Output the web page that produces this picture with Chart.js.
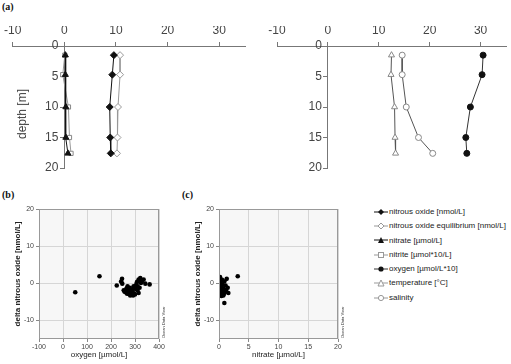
<!DOCTYPE html>
<html>
<head>
<meta charset="utf-8">
<script src="https://cdn.jsdelivr.net/npm/chart.js@4/dist/chart.umd.min.js"></script>
<style>
body{margin:0;background:#fff;width:511px;height:364px;position:relative;overflow:hidden;font-family:"Liberation Sans",Arial,sans-serif}
canvas{position:absolute}
.lab{position:absolute;font:bold 10px "Liberation Serif",serif;color:#111}
#ytitle{position:absolute;left:22px;top:114px;font-size:12px;color:#444;white-space:nowrap;transform:translate(-50%,-50%) rotate(-90deg)}
#legend{position:absolute;left:374px;top:205px;font-size:8px;color:#222}
#legend div{height:14.3px;line-height:14.3px;white-space:nowrap}
#legend svg{vertical-align:middle;margin-right:1px}
</style>
</head>
<body>
<div class="lab" style="left:2px;top:1px">(a)</div>
<div class="lab" style="left:2px;top:189px">(b)</div>
<div class="lab" style="left:182px;top:189px">(c)</div>
<canvas id="profL" width="256" height="180" style="left:0;top:0"></canvas>
<canvas id="profR" width="255" height="180" style="left:256px;top:0"></canvas>
<canvas id="scatB" width="180" height="164" style="left:0;top:200px"></canvas>
<canvas id="scatC" width="170" height="164" style="left:180px;top:200px"></canvas>
<div id="ytitle">depth [m]</div>
<div id="legend"></div>
<script>
// depth profiles (a)
var depth = [1.5, 4.7, 10, 15, 17.6];
var n2o = [9.6, 9.3, 8.8, 8.9, 9.0];
var n2oEq = [10.8, 10.8, 10.4, 10.3, 10.2];
var nitrate = [0.2, 0.2, 0.3, 0.3, 0.7];
var nitrite = [0.1, -0.3, 0.8, 1.0, 1.3];
var oxygen = [30.5, 30.3, 28.0, 27.1, 27.3];
var temperature = [12.5, 12.4, 13.1, 13.2, 13.3];
var salinity = [14.6, 14.6, 15.4, 17.8, 20.6];

// delta N2O vs oxygen (b)
var oxygenB = [51, 152, 224, 242, 246, 247, 253, 260, 264, 267, 269, 273, 278, 280, 283, 287, 292,
  294, 297, 301, 305, 308, 311, 315, 315, 319, 322, 325, 329, 336, 343, 361, 256, 275, 290, 310, 318, 300];
var deltaB = [-2.4, 1.9, -0.6, 0.5, 1.2, -0.1, -1.9, -2.4, -1.5, -2.8, -0.8, -2.1, -1.2, -3.3, -2.6, -1.7, -3.3,
  -0.8, -2.8, -1.5, -0.4, 0.3, -0.8, 1.0, -2.6, -1.2, 1.4, 0.1, 0.5, 1.0, -0.1, -0.3, -2.2, -2.9, -2.2, -1.9, 0.7, -3.0];

// delta N2O vs nitrate (c)
var nitrateC = [0.17, 0.45, 0.9, 0.17, 0.56, 1.1, 0.17, 0.73, 1.46, 0.34, 1.0, 1.57, 0.17, 0.73, 0.45,
  0.0, 1.3, 3.15, 0.9, 0.05, 1.2, 0.3, 0.6, 0.1, 0.8, 0.4];
var deltaC = [1.7, 1.0, 0.5, 0.1, -0.3, -0.6, -1.2, -1.5, -1.2, -2.1, -2.4, -2.6, -3.0, -3.3, -0.9,
  1.0, 1.2, 1.9, -5.3, -1.7, -1.8, -2.6, 0.8, -0.5, -2.9, -3.4];

var depthTicks = [0, 5, 10, 15, 20];
var profileTicks = [-10, 0, 10, 20, 30];
var oxygenTicks = [-100, 0, 100, 200, 300, 400];
var nitrateTicks = [0, 5, 10, 15, 20];
var deltaTicks = [-10, 0, 10, 20];

var legendLabels = ['nitrous oxide [nmol/L]', 'nitrous oxide equilibrium [nmol/L]', 'nitrate [\u00b5mol/L]',
  'nitrite [\u00b5mol*10/L]', 'oxygen [\u00b5mol/L*10]', 'temperature [\u00b0C]', 'salinity'];

function setTicks(arr) {
  return function (s) { s.ticks = arr.map(function (v) { return {value: v}; }); };
}

function prof(xs, st) {
  return Object.assign({
    data: xs.map(function (v, i) { return {x: v, y: depth[i]}; }),
    showLine: true, borderWidth: 1, pointRadius: 3, pointBorderWidth: 1, clip: false
  }, st);
}

var styles = [
  {borderColor: '#111', pointStyle: 'rectRot', pointBackgroundColor: '#111', pointBorderColor: '#111', pointRadius: 3.5},
  {borderColor: '#999', pointStyle: 'rectRot', pointBackgroundColor: '#fff', pointBorderColor: '#999', pointRadius: 3.5},
  {borderColor: '#111', pointStyle: 'triangle', pointBackgroundColor: '#111', pointBorderColor: '#111', pointRadius: 3.5},
  {borderColor: '#999', pointStyle: 'rect', pointBackgroundColor: '#fff', pointBorderColor: '#888'},
  {borderColor: '#333', pointStyle: 'circle', pointBackgroundColor: '#111', pointBorderColor: '#111'},
  {borderColor: '#555', pointStyle: 'triangle', pointBackgroundColor: '#fff', pointBorderColor: '#888', pointRadius: 3.5},
  {borderColor: '#555', pointStyle: 'circle', pointBackgroundColor: '#fff', pointBorderColor: '#888'}
];

function profileChart(id, sets, pad) {
  return new Chart(document.getElementById(id), {
    type: 'scatter',
    data: {datasets: sets},
    options: {
      responsive: false, animation: false,
      layout: {padding: pad},
      plugins: {legend: {display: false}, tooltip: {enabled: false}},
      scales: {
        x: {
          type: 'linear', position: 'top', min: -10, max: 35,
          afterBuildTicks: setTicks(profileTicks),
          afterFit: function (s) { s.height = 20; },
          grid: {drawOnChartArea: false, tickLength: 4, color: '#777'},
          border: {color: '#777'},
          ticks: {color: '#444', font: {size: 12}, padding: 4}
        },
        y: {
          type: 'linear', position: {x: 0}, reverse: true, min: 0, max: 20,
          afterBuildTicks: setTicks(depthTicks),
          grid: {drawOnChartArea: false, tickLength: 4, color: '#777'},
          border: {color: '#777'},
          // labels on a value-positioned axis end right at the line, so push them off with a space
          ticks: {color: '#444', font: {size: 12}, callback: function (v) { return v + '\u2002'; }}
        }
      }
    }
  });
}

profileChart('profL', [prof(n2o, styles[0]), prof(n2oEq, styles[1]), prof(nitrate, styles[2]), prof(nitrite, styles[3])],
  {left: 12, right: 11, top: 26, bottom: 12});
profileChart('profR', [prof(oxygen, styles[4]), prof(temperature, styles[5]), prof(salinity, styles[6])],
  {left: 21, right: 4, top: 26, bottom: 12});

// plot frame, background and ODV mark
var framePlugin = {
  id: 'frame',
  beforeDraw: function (chart) {
    var a = chart.chartArea, ctx = chart.ctx;
    ctx.save();
    ctx.fillStyle = '#f7f7f7';
    ctx.fillRect(a.left, a.top, a.right - a.left, a.bottom - a.top);
    ctx.restore();
  },
  afterDraw: function (chart) {
    var a = chart.chartArea, ctx = chart.ctx;
    ctx.save();
    ctx.strokeStyle = '#999';
    ctx.lineWidth = 1;
    ctx.strokeRect(a.left + 0.5, a.top + 0.5, a.right - a.left - 1, a.bottom - a.top - 1);
    ctx.translate(a.right + 4.5, a.bottom - 1);
    ctx.rotate(-Math.PI / 2);
    ctx.fillStyle = '#333';
    ctx.font = '4px "Liberation Sans"';
    ctx.textBaseline = 'middle';
    ctx.fillText('Ocean Data View', 0, 0);
    ctx.restore();
  }
};

function scatterChart(id, xs, ys, xmin, xmax, xticks, xtitle, pad) {
  return new Chart(document.getElementById(id), {
    type: 'scatter',
    data: {datasets: [{
      data: xs.map(function (v, i) { return {x: v, y: ys[i]}; }),
      pointRadius: 2.3, pointBackgroundColor: '#000', pointBorderColor: '#000', pointBorderWidth: 0
    }]},
    options: {
      responsive: false, animation: false,
      layout: {padding: pad},
      plugins: {legend: {display: false}, tooltip: {enabled: false}},
      scales: {
        x: {
          type: 'linear', min: xmin, max: xmax,
          afterBuildTicks: setTicks(xticks),
          afterFit: function (s) { s.height = 25; },
          grid: {color: '#d6d6d6', tickColor: '#888', tickLength: 3},
          border: {display: false},
          ticks: {color: '#444', font: {size: 7}, padding: 1},
          title: {display: true, text: xtitle, color: '#222', font: {size: 8}, padding: {top: 0, bottom: 4}}
        },
        y: {
          type: 'linear', min: -15, max: 20,
          afterBuildTicks: setTicks(deltaTicks),
          afterFit: function (s) { s.width = 29; },
          grid: {color: '#d6d6d6', tickColor: '#888', tickLength: 3},
          border: {display: false},
          ticks: {color: '#444', font: {size: 7}, padding: 2},
          title: {display: true, text: 'delta nitrous oxide [nmol/L]', color: '#222', font: {size: 8, weight: 'bold'}, padding: {top: 3, bottom: 0}}
        }
      }
    },
    plugins: [framePlugin]
  });
}

scatterChart('scatB', oxygenB, deltaB, -100, 400, oxygenTicks, 'oxygen [\u00b5mol/L]', {left: 10, right: 21, top: 9, bottom: 0});
scatterChart('scatC', nitrateC, deltaC, 0, 20, nitrateTicks, 'nitrate [\u00b5mol/L]', {left: 10, right: 12, top: 9, bottom: 0});

// legend
var marks = [
  '<polygon points="7,1 10,4 7,7 4,4" fill="#111"/>',
  '<polygon points="7,1 10,4 7,7 4,4" fill="#fff" stroke="#999"/>',
  '<polygon points="7,1 10,7 4,7" fill="#111"/>',
  '<rect x="4.5" y="1.5" width="5" height="5" fill="#fff" stroke="#999"/>',
  '<circle cx="7" cy="4" r="2.6" fill="#111"/>',
  '<polygon points="7,1 10,7 4,7" fill="#fff" stroke="#999"/>',
  '<circle cx="7" cy="4" r="2.6" fill="#fff" stroke="#999"/>'
];
var lineCols = ['#111', '#999', '#111', '#999', '#333', '#999', '#999'];
var html = '';
legendLabels.forEach(function (t, i) {
  html += '<div><svg width="14" height="8"><line x1="0" y1="4" x2="14" y2="4" stroke="' + lineCols[i] + '"/>' +
    marks[i] + '</svg>' + t + '</div>';
});
document.getElementById('legend').innerHTML = html;
</script>
</body>
</html>
